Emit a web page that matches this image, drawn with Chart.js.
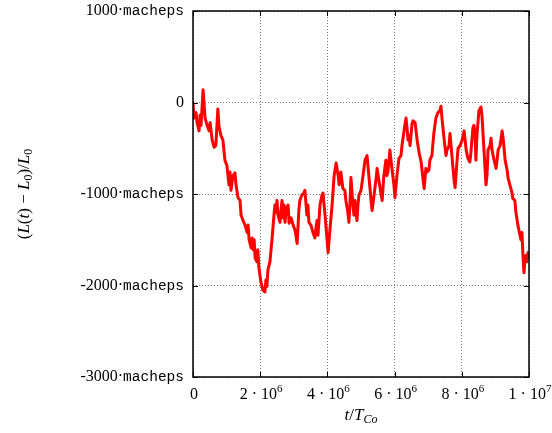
<!DOCTYPE html>
<html>
<head>
<meta charset="utf-8">
<script src="https://cdn.jsdelivr.net/npm/chart.js@4.4.1/dist/chart.umd.min.js"></script>
<style>
  html, body { margin: 0; padding: 0; background: #fff; }
  #box { width: 552px; height: 433px; }
</style>
</head>
<body>
<div id="box"><canvas id="mainChart" width="552" height="433"></canvas></div>
<script>
// time in units of 10^6 T_Co
const tMillions = [
  0.00, 0.03, 0.09, 0.12, 0.18, 0.21, 0.24, 0.30, 0.36, 0.42, 0.48, 0.51, 0.57, 0.63, 0.68, 0.74, 0.77, 0.83, 0.89, 0.95,
  1.01, 1.07, 1.10, 1.13, 1.19, 1.25, 1.28, 1.34, 1.40, 1.43, 1.49, 1.55, 1.61, 1.64, 1.67, 1.73, 1.76, 1.79, 1.82, 1.85,
  1.90, 1.93, 1.96, 2.02, 2.08, 2.14, 2.17, 2.20, 2.23, 2.29, 2.35, 2.41, 2.44, 2.47, 2.50, 2.53, 2.59, 2.62, 2.65, 2.68,
  2.71, 2.74, 2.77, 2.83, 2.86, 2.92, 2.98, 3.04, 3.10, 3.15, 3.18, 3.24, 3.30, 3.33, 3.39, 3.42, 3.45, 3.51, 3.57, 3.63,
  3.66, 3.69, 3.72, 3.78, 3.84, 3.87, 3.93, 3.99, 4.02, 4.08, 4.14, 4.20, 4.26, 4.32, 4.35, 4.40, 4.46, 4.52, 4.55, 4.61,
  4.64, 4.67, 4.70, 4.76, 4.79, 4.82, 4.88, 4.91, 4.94, 5.00, 5.06, 5.12, 5.18, 5.24, 5.30, 5.33, 5.39, 5.45, 5.48, 5.54,
  5.60, 5.63, 5.68, 5.74, 5.77, 5.80, 5.86, 5.92, 5.98, 6.01, 6.07, 6.13, 6.19, 6.22, 6.28, 6.34, 6.37, 6.40, 6.43, 6.46,
  6.52, 6.55, 6.61, 6.67, 6.73, 6.79, 6.85, 6.88, 6.93, 6.96, 7.02, 7.05, 7.11, 7.17, 7.23, 7.29, 7.35, 7.38, 7.41, 7.47,
  7.53, 7.56, 7.62, 7.65, 7.71, 7.77, 7.80, 7.86, 7.89, 7.95, 8.01, 8.07, 8.13, 8.18, 8.24, 8.27, 8.33, 8.36, 8.39, 8.42,
  8.45, 8.51, 8.57, 8.60, 8.66, 8.72, 8.75, 8.78, 8.84, 8.87, 8.90, 8.96, 9.02, 9.05, 9.08, 9.14, 9.20, 9.23, 9.29, 9.35,
  9.38, 9.43, 9.49, 9.52, 9.58, 9.61, 9.67, 9.73, 9.76, 9.79, 9.82, 9.85, 9.88, 9.91, 9.94, 9.97, 10.00
];

// (L(t) - L0)/L0 in units of macheps
const lengthDrift = [
  0, -170, -110, -220, -310, -140, -250, 140, -170, -250, -310, -220, -410, -490, -470, -70, -250, -360, -410, -630,
  -690, -900, -760, -960, -800, -770, -900, -1040, -1070, -1230, -1290, -1340, -1420, -1340, -1500, -1590, -1480, -1610, -1500, -1700,
  -1740, -1610, -1800, -1960, -2050, -2070, -1940, -2010, -1830, -1740, -1500, -1230, -1120, -1200, -1070, -1230, -1310, -1180, -1070, -1260,
  -1120, -1310, -1160, -1120, -1320, -1260, -1340, -1400, -1540, -1180, -1070, -1010, -990, -960, -1230, -1120, -1310, -1340, -1420, -1480,
  -1370, -1290, -1450, -1120, -1010, -990, -1230, -1500, -1640, -1370, -1120, -800, -660, -800, -900, -760, -940, -960, -1070, -1200,
  -1310, -1120, -820, -1120, -1230, -1070, -1290, -1120, -1010, -960, -800, -630, -580, -830, -1070, -1180, -1010, -830, -720, -870,
  -1010, -1070, -800, -630, -800, -760, -520, -720, -900, -1040, -800, -610, -580, -470, -310, -170, -280, -410, -360, -470,
  -230, -200, -220, -410, -550, -650, -850, -940, -720, -760, -740, -630, -580, -330, -170, -110, -90, -40, -170, -390,
  -580, -520, -470, -340, -600, -850, -930, -630, -500, -470, -410, -310, -520, -610, -650, -550, -280, -250, -310, -630,
  -360, -90, -50, -140, -520, -900, -800, -520, -470, -390, -520, -630, -720, -630, -520, -470, -310, -390, -630, -740,
  -830, -900, -980, -1050, -1070, -1200, -1340, -1450, -1500, -1420, -1670, -1860, -1720, -1670, -1740, -1640, -1680
];

const xTicks = [0, 2, 4, 6, 8, 10];
const xTickMantissa = ['0', '2 · 10', '4 · 10', '6 · 10', '8 · 10', '1 · 10'];
const xTickExponent = ['', '6', '6', '6', '6', '7'];
const yTicks = [1000, 0, -1000, -2000, -3000];

const SERIF = '"Liberation Serif", "DejaVu Serif", serif';
const MONO = '"Liberation Mono", "DejaVu Sans Mono", monospace';

// draws a list of text pieces one after another (mixed fonts / sub / superscripts)
function drawRuns(ctx, runs, x, y, align) {
    let total = 0;
    runs.forEach(r => { ctx.font = r.font; r.w = ctx.measureText(r.text).width; total += r.w; });
    let cx = align === 'right' ? x - total : align === 'center' ? x - total / 2 : x;
    runs.forEach(r => {
        ctx.font = r.font;
        ctx.fillText(r.text, cx, y + (r.dy || 0));
        cx += r.w;
    });
}

const decorations = {
    id: 'decorations',
    afterDatasetsDraw(chart) {
        const { ctx, chartArea: a, scales: { x, y } } = chart;
        ctx.save();
        ctx.fillStyle = '#000';
        ctx.strokeStyle = '#000';
        ctx.textBaseline = 'middle';

        // inward tick marks on all four sides
        ctx.lineWidth = 1;
        ctx.beginPath();
        xTicks.forEach(v => {
            const px = Math.round(x.getPixelForValue(v)) + 0.5;
            ctx.moveTo(px, a.bottom); ctx.lineTo(px, a.bottom - 5);
            ctx.moveTo(px, a.top); ctx.lineTo(px, a.top + 5);
        });
        yTicks.forEach(v => {
            const py = Math.round(y.getPixelForValue(v)) + 0.5;
            ctx.moveTo(a.left, py); ctx.lineTo(a.left + 5, py);
            ctx.moveTo(a.right, py); ctx.lineTo(a.right - 5, py);
        });
        ctx.stroke();

        // frame
        ctx.lineWidth = 1.5;
        ctx.strokeRect(a.left, a.top, a.right - a.left, a.bottom - a.top);

        // y tick labels: number + "·" + macheps in typewriter
        yTicks.forEach(v => {
            const py = y.getPixelForValue(v);
            if (v === 0) {
                drawRuns(ctx, [{ text: '0', font: '16px ' + SERIF }], a.left - 9, py, 'right');
            } else {
                drawRuns(ctx, [
                    { text: String(v), font: '16px ' + SERIF },
                    { text: '·', font: '16px ' + SERIF },
                    { text: 'macheps', font: '14.5px ' + MONO, dy: 0.5 }
                ], a.left - 9, py, 'right');
            }
        });

        // x tick labels
        xTicks.forEach((v, i) => {
            const px = x.getPixelForValue(v);
            const runs = [{ text: xTickMantissa[i], font: '16px ' + SERIF }];
            if (xTickExponent[i]) runs.push({ text: xTickExponent[i], font: '11px ' + SERIF, dy: -6 });
            drawRuns(ctx, runs, px + 1, a.bottom + 18, 'center');
        });

        // x axis title: t/T_Co
        drawRuns(ctx, [
            { text: 't', font: 'italic 17px ' + SERIF },
            { text: '/', font: '17px ' + SERIF },
            { text: 'T', font: 'italic 17px ' + SERIF },
            { text: 'Co', font: 'italic 12px ' + SERIF, dy: 4 }
        ], (a.left + a.right) / 2, a.bottom + 39, 'center');

        // y axis title: (L(t) - L0)/L0, rotated
        ctx.translate(25, (a.top + a.bottom) / 2);
        ctx.rotate(-Math.PI / 2);
        drawRuns(ctx, [
            { text: '(', font: '17px ' + SERIF },
            { text: 'L', font: 'italic 17px ' + SERIF },
            { text: '(', font: '17px ' + SERIF },
            { text: 't', font: 'italic 17px ' + SERIF },
            { text: ') − ', font: '17px ' + SERIF },
            { text: 'L', font: 'italic 17px ' + SERIF },
            { text: '0', font: '12px ' + SERIF, dy: 4 },
            { text: ')/', font: '17px ' + SERIF },
            { text: 'L', font: 'italic 17px ' + SERIF },
            { text: '0', font: '12px ' + SERIF, dy: 4 }
        ], 0, 0, 'center');
        ctx.restore();
    }
};

const ctx = document.getElementById('mainChart').getContext('2d');
new Chart(ctx, {
    type: 'line',
    data: {
        datasets: [{
            data: tMillions.map((t, i) => ({ x: t, y: lengthDrift[i] })),
            borderColor: '#ff0000',
            backgroundColor: '#ff0000',
            borderWidth: 3,
            borderJoinStyle: 'round',
            borderCapStyle: 'round',
            pointRadius: 0,
            pointHoverRadius: 0,
            tension: 0,
            fill: false
        }]
    },
    options: {
        responsive: false,
        animation: false,
        layout: { padding: { left: 193, right: 23, top: 11, bottom: 56 } },
        plugins: { legend: { display: false }, tooltip: { enabled: false } },
        scales: {
            x: {
                type: 'linear', min: 0, max: 10,
                afterBuildTicks: s => { s.ticks = xTicks.map(v => ({ value: v })); },
                ticks: { display: false },
                border: { display: false, dash: [1, 2] },
                grid: { color: '#777', lineWidth: 1, drawTicks: false },
                afterFit: s => { s.height = 0; }
            },
            y: {
                min: -3000, max: 1000,
                afterBuildTicks: s => { s.ticks = yTicks.map(v => ({ value: v })); },
                ticks: { display: false },
                border: { display: false, dash: [1, 2] },
                grid: { color: '#777', lineWidth: 1, drawTicks: false },
                afterFit: s => { s.width = 0; }
            }
        }
    },
    plugins: [decorations]
});
</script>
</body>
</html>
